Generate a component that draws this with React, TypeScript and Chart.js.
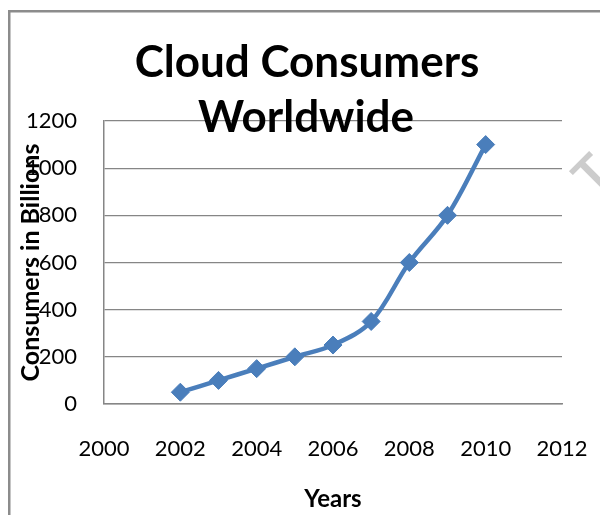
import React, { useEffect, useRef } from "react";
import { Chart, registerables } from "chart.js";

Chart.register(...registerables);

// Series
const years = [2002, 2003, 2004, 2005, 2006, 2007, 2008, 2009, 2010];
const consumers = [50, 100, 150, 200, 250, 350, 600, 800, 1100];

// Axes
const xMin = 2000;
const xMax = 2012;
const xStep = 2;
const yMin = 0;
const yMax = 1200;
const yStep = 200;

const titleLines = ["Cloud Consumers", "Worldwide"];
const xTitle = "Years";
const yTitle = "Consumers in Billions";

const FONT = "Lato, 'Open Sans', sans-serif";
const LINE_BLUE = "#4a7ebb";
const GRID_GREY = "#868686";

// Frame, overlaid title and faint corner mark
const decorations = {
  id: "decorations",
  beforeDraw(chart: Chart) {
    const { ctx } = chart;
    ctx.save();
    ctx.fillStyle = "#ffffff";
    ctx.fillRect(0, 0, chart.width, chart.height);
    ctx.strokeStyle = "#8c8c8c";
    ctx.lineWidth = 2.5;
    ctx.strokeRect(9.25, 11.25, chart.width + 40, chart.height + 40);
    ctx.restore();
  },
  afterDraw(chart: Chart) {
    const { ctx } = chart;
    ctx.save();
    // corner mark
    const f = 50;
    ctx.translate(582, 164);
    ctx.rotate(-Math.PI / 4);
    ctx.fillStyle = "#cccccc";
    ctx.font = `bold ${f}px ${FONT}`;
    ctx.textAlign = "center";
    ctx.textBaseline = "alphabetic";
    ctx.fillText("T", 0, 0.72 * f - 4);
    ctx.restore();

    ctx.save();
    ctx.fillStyle = "#000000";
    ctx.font = `bold 44px ${FONT}`;
    ctx.textAlign = "center";
    ctx.textBaseline = "alphabetic";
    ctx.fillText(titleLines[0], 307, 77);
    ctx.fillText(titleLines[1], 306, 132);
    ctx.restore();
  },
};

export default function App() {
  const canvasRef = useRef<HTMLCanvasElement | null>(null);

  useEffect(() => {
    if (!canvasRef.current) return;
    const chart = new Chart(canvasRef.current, {
      type: "line",
      data: {
        datasets: [
          {
            label: yTitle,
            data: years.map((y, i) => ({ x: y, y: consumers[i] })),
            borderColor: LINE_BLUE,
            backgroundColor: LINE_BLUE,
            borderWidth: 4.5,
            tension: 0.35,
            pointStyle: "rectRot",
            pointRadius: 9,
            pointBorderWidth: 1,
            pointBorderColor: LINE_BLUE,
            pointBackgroundColor: LINE_BLUE,
          },
        ],
      },
      options: {
        animation: false,
        responsive: true,
        maintainAspectRatio: false,
        layout: { padding: { top: 121, left: 0, right: 38, bottom: 0 } },
        plugins: {
          legend: { display: false },
          tooltip: { enabled: false },
          title: { display: false },
        },
        scales: {
          x: {
            type: "linear",
            min: xMin,
            max: xMax,
            ticks: {
              stepSize: xStep,
              color: "#000000",
              font: { family: FONT, size: 22 },
              padding: 32,
              callback: (v: number | string) => String(v),
            },
            grid: { display: false, drawTicks: false },
            border: { display: true, color: GRID_GREY, width: 1.5 },
            title: {
              display: true,
              text: xTitle,
              color: "#000000",
              font: { family: FONT, size: 24, weight: "bold" },
              padding: { top: 0, bottom: 1 },
            },
            afterFit: (scale: any) => {
              scale.height = 111;
              scale.paddingLeft = 0;
              scale.paddingRight = 0;
            },
          },
          y: {
            type: "linear",
            min: yMin,
            max: yMax,
            ticks: {
              stepSize: yStep,
              color: "#000000",
              font: { family: FONT, size: 22 },
              padding: 27,
              callback: (v: number | string) => String(v),
            },
            grid: { display: true, drawTicks: false, color: GRID_GREY, lineWidth: 1.2 },
            border: { display: true, color: GRID_GREY, width: 1.5 },
            title: {
              display: true,
              text: yTitle,
              color: "#000000",
              font: { family: FONT, size: 25, weight: "bold" },
              padding: { top: 16, bottom: 0 },
            },
            afterFit: (scale: any) => {
              scale.width = 104;
              scale.paddingTop = 0;
              scale.paddingBottom = 0;
            },
          },
        },
      },
      plugins: [decorations],
    });
    return () => chart.destroy();
  }, []);

  return (
    <div style={{ position: "fixed", left: 0, top: 0, width: 600, height: 515 }}>
      <canvas ref={canvasRef} />
    </div>
  );
}
